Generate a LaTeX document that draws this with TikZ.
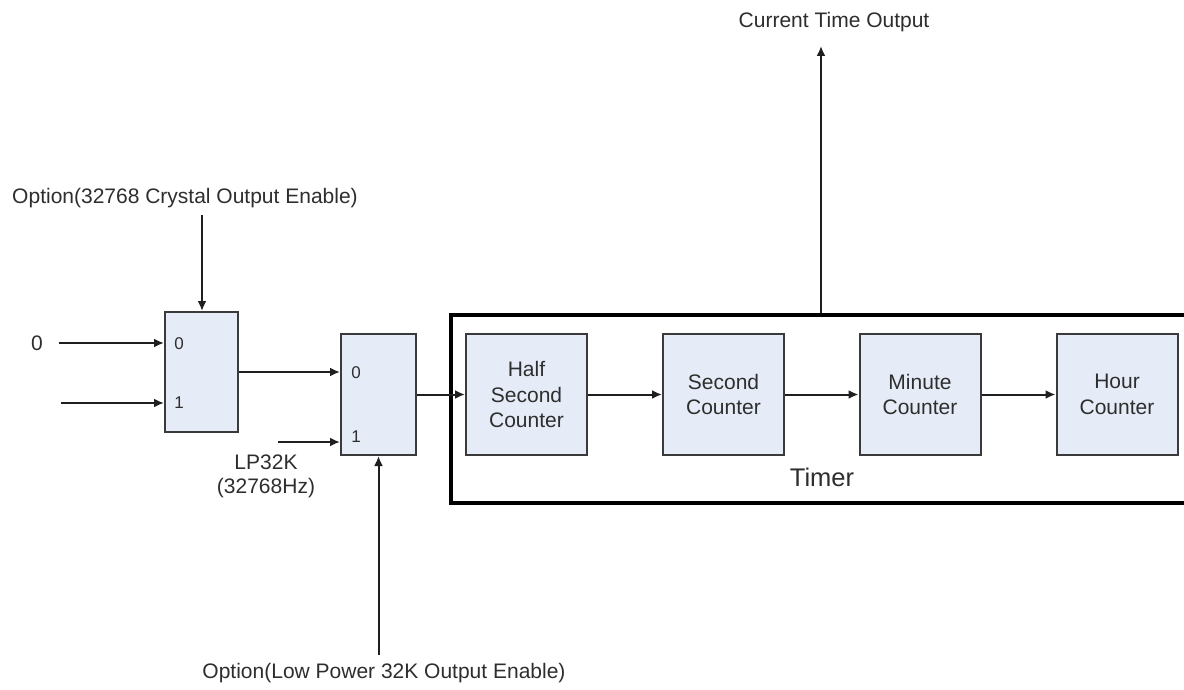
\documentclass[tikz,border=0pt]{standalone}
\usepackage{fontspec}
\setmainfont{Liberation Sans}
\usetikzlibrary{arrows.meta}
\definecolor{boxfill}{HTML}{E6ECF7}
\definecolor{boxline}{HTML}{3A3A3A}
\definecolor{txt}{HTML}{2E2E2E}
\begin{document}
\begin{tikzpicture}[x=1pt,y=-1pt,
 blk/.style={draw=boxline,fill=boxfill,line width=2pt,inner sep=0pt,minimum width=121pt,minimum height=121pt,align=center,font=\fontsize{21}{25.5}\selectfont,text=txt},
 mux/.style={draw=boxline,fill=boxfill,line width=2pt,inner sep=0pt},
 wire/.style={line width=2pt,draw=black!88,-{Latex[length=10pt,width=9pt]}},
 lbl/.style={font=\fontsize{21}{24}\selectfont,text=txt,inner sep=0pt,align=center},
 pin/.style={font=\fontsize{17}{19}\selectfont,text=txt,inner sep=0pt},
 frame/.style={draw=black,line width=3.2pt,inner sep=0pt}]
\useasboundingbox (0,0) rectangle (1184,690);
\fill[white] (0,0) rectangle (1184,690);

% timer frame (right edge beyond the page)
\node[frame,minimum width=744pt,minimum height=188pt] (timer) at (823,409) {};
\node[font=\fontsize{25.5}{28}\selectfont,text=txt,inner sep=0pt] (tlabel) at (822,477) {Timer};

% multiplexers
\node[mux,minimum width=73pt,minimum height=120pt] (m1) at (201.5,372) {};
\node[mux,minimum width=75pt,minimum height=121pt] (m2) at (378.5,394.5) {};

\node[pin] (m1p0) at (179,344) {0};
\node[pin] (m1p1) at (179,403) {1};
\node[pin] (m2p0) at (356,373) {0};
\node[pin] (m2p1) at (356,437) {1};

% counters
\node[blk] (half) at (526.5,394.5) {Half\\Second\\Counter};
\node[blk] (sec) at (723.5,394.5) {Second\\Counter};
\node[blk] (min) at (920,394.5) {Minute\\Counter};
\node[blk] (hour) at (1117,394.5) {Hour\\Counter};

% labels
\node[lbl] (zero) at (37,343) {0};
\node[lbl] (opt1) at (185,198) {Option(32768 Crystal Output Enable)};
\node[lbl] (lp) at (266,476) {LP32K\\(32768Hz)};
\node[lbl] (opt2) at (384,673) {Option(Low Power 32K Output Enable)};
\node[lbl] (cto) at (834,22) {Current Time Output};

% free ends
\coordinate (in0) at (59,343);
\coordinate (in1) at (61,403);
\coordinate (in2) at (278,442);
\coordinate (o1) at (202,215);
\coordinate (o2) at (378.5,655);
\coordinate (out) at (821,46);

% connectors
\draw[wire] (in0) -- (m1.west |- in0);
\draw[wire] (in1) -- (m1.west |- in1);
\draw[wire] (o1) -- (m1.north -| o1);
\draw[wire] (m1.east) -- (m2.west |- m1.east);
\draw[wire] (in2) -- (m2.west |- in2);
\draw[wire] (o2) -- (m2.south);
\draw[wire] (m2.east) -- (half.west);
\draw[wire] (half.east) -- (sec.west);
\draw[wire] (sec.east) -- (min.west);
\draw[wire] (min.east) -- (hour.west);
\draw[wire] (timer.north -| out) -- (out);
\end{tikzpicture}
\end{document}
